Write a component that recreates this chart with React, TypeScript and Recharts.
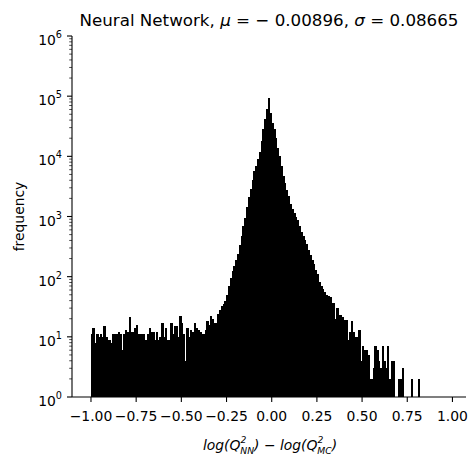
import { Bar, BarChart, XAxis, YAxis } from 'recharts';

// histogram of log(Q2_NN) - log(Q2_MC), bins of 0.01 starting at -1
const binStart = -1;
const binWidth = 0.01;

// bins -1.00 .. -0.25 (flat noisy tail)
const leftTailCounts = [
  11, 14, 8, 11, 10, 11, 10, 15, 10, 9,
  9, 8, 11, 11, 11, 12, 11, 6, 11, 13,
  12, 21, 12, 12, 14, 16, 11, 11, 11, 11,
  9, 11, 14, 12, 12, 9, 12, 9, 10, 17,
  10, 14, 9, 9, 17, 11, 15, 15, 10, 22,
  17, 11, 4, 14, 10, 13, 12, 17, 14, 13,
  12, 11, 11, 13, 18, 16, 22, 20, 17, 17,
  24, 28, 32, 35, 39,
];

// bins -0.25 .. 0.49 (the peak)
const peakCounts = [
  50, 70, 94, 125, 150, 190, 240, 330, 470, 700,
  950, 1450, 2100, 2900, 4000, 5600, 7000, 9000, 12000, 18000,
  28000, 42000, 62000, 93000, 52000, 36000, 29000, 20000, 14000, 10000,
  7000, 4800, 3600, 2800, 2200, 1600, 1350, 1150, 1000, 880,
  700, 560, 480, 400, 350, 280, 230, 190, 160, 130,
  110, 80, 70, 62, 55, 50, 48, 46, 36, 36,
  20, 30, 23, 23, 21, 19, 19, 9, 12, 18,
  12, 10, 10, 13,
];

// bins 0.49 .. 0.82 (sparse right tail, null = empty bin)
const rightTailCounts: (number | null)[] = [
  4, 7, 6, 6, 5, 2, 2, 3, 7, 6,
  4, 3, 7, 4, 3, 7, 2, 4, 4, null,
  null, 2, 2, 3, null, null, null, null, 2, null,
  null, null, 2,
];

const xTicks = [-1, -0.75, -0.5, -0.25, 0, 0.25, 0.5, 0.75, 1];
const yMajorTicks = [1, 10, 100, 1000, 10000, 100000, 1000000];

const counts = [...leftTailCounts, ...peakCounts, ...rightTailCounts];
const data = counts.map((count, i) => ({
  x: binStart + binWidth * (i + 0.5),
  count,
}));

// minor ticks 2..9 inside every decade
const yTicks: number[] = [];
yMajorTicks.forEach((v, i) => {
  yTicks.push(v);
  if (i < yMajorTicks.length - 1) {
    for (let m = 2; m <= 9; m++) yTicks.push(v * m);
  }
});

const FONT = 'DejaVu Sans';
const X_DOMAIN: [number, number] = [-1.105, 1.075];
const PLOT_W = 394;
const BIN_PX = (binWidth * PLOT_W) / (X_DOMAIN[1] - X_DOMAIN[0]);

const fmtX = (v: number) => v.toFixed(2).replace('-', '\u2212');

function LogTick(props: any) {
  const { x, y, payload } = props;
  const exp = Math.log10(payload.value);
  const major = Math.abs(exp - Math.round(exp)) < 1e-6;
  return (
    <g>
      <line
        x1={x}
        x2={x - (major ? 5 : 2.8)}
        y1={y}
        y2={y}
        stroke="#000"
        strokeWidth={major ? 1.1 : 0.7}
      />
      {major && (
        <text x={x - 10} y={y + 9} textAnchor="end" fontFamily={FONT} fontSize={13.9} fill="#000">
          10
          <tspan dy={-7} fontSize={9.7}>
            {Math.round(exp)}
          </tspan>
        </text>
      )}
    </g>
  );
}

// a full bin wide around the bar centre, so neighbouring bins merge like a filled hist
const histShape = (props: any) => {
  const { x, y, width, height } = props;
  const h = Math.abs(height);
  if (!h) return <g />;
  const top = height < 0 ? y + height : y;
  const cx = x + width / 2;
  const w = BIN_PX + 0.6;
  return <rect x={cx - w / 2} y={top} width={w} height={h} fill="#000" shapeRendering="crispEdges" />;
};

export default function App() {
  return (
    <div style={{ position: 'absolute', left: 0, top: 0, width: 472, height: 459, background: '#fff' }}>
      <BarChart
        width={472}
        height={459}
        data={data}
        margin={{ top: 36, right: 6, bottom: 0, left: 0 }}
        barCategoryGap={0}
        barGap={0}
      >
        <XAxis
          dataKey="x"
          type="number"
          domain={X_DOMAIN}
          allowDataOverflow
          ticks={xTicks}
          interval={0}
          tickFormatter={fmtX}
          height={62}
          tickSize={5}
          tickMargin={9}
          tick={{ fill: '#000', fontSize: 13.9, fontFamily: FONT }}
          tickLine={{ stroke: '#000', strokeWidth: 1.1 }}
          axisLine={{ stroke: '#000', strokeWidth: 1.1 }}
        />
        <XAxis
          xAxisId="top"
          orientation="top"
          type="number"
          domain={[0, 1]}
          height={0}
          tick={false}
          tickLine={false}
          axisLine={{ stroke: '#000', strokeWidth: 1.1 }}
        />
        <YAxis
          type="number"
          scale="log"
          domain={[1, 1000000]}
          allowDataOverflow
          ticks={yTicks}
          interval={0}
          width={72}
          tickSize={0}
          tickMargin={0}
          tick={<LogTick />}
          tickLine={false}
          axisLine={{ stroke: '#000', strokeWidth: 1.1 }}
        />
        <YAxis
          yAxisId="right"
          orientation="right"
          type="number"
          domain={[0, 1]}
          width={0}
          tick={false}
          tickLine={false}
          axisLine={{ stroke: '#000', strokeWidth: 1.1 }}
        />
        <Bar dataKey="count" fill="#000" barSize={1.8} shape={histShape} isAnimationActive={false} />
        <text x={269} y={26} textAnchor="middle" fontFamily={FONT} fontSize={16.7} fill="#000">
          Neural Network,{' '}
          <tspan fontStyle="italic">μ</tspan> = − 0.00896,{' '}
          <tspan fontStyle="italic">σ</tspan> = 0.08665
        </text>
        <text
          x={24}
          y={216.5}
          transform="rotate(-90, 24, 216.5)"
          textAnchor="middle"
          fontFamily={FONT}
          fontSize={13.9}
          fill="#000"
        >
          frequency
        </text>
        <text x={270} y={450} textAnchor="middle" fontFamily={FONT} fontSize={13.9} fill="#000" fontStyle="italic">
          log(Q
          <tspan dy={-7} fontSize={9.2}>2</tspan>
          <tspan dx={-6} dy={11} fontSize={9.2}>NN</tspan>
          <tspan dy={-4}>) </tspan>
          <tspan fontStyle="normal">−</tspan>
          <tspan> log(Q</tspan>
          <tspan dy={-7} fontSize={9.2}>2</tspan>
          <tspan dx={-6} dy={11} fontSize={9.2}>MC</tspan>
          <tspan dy={-4}>)</tspan>
        </text>
      </BarChart>
    </div>
  );
}
